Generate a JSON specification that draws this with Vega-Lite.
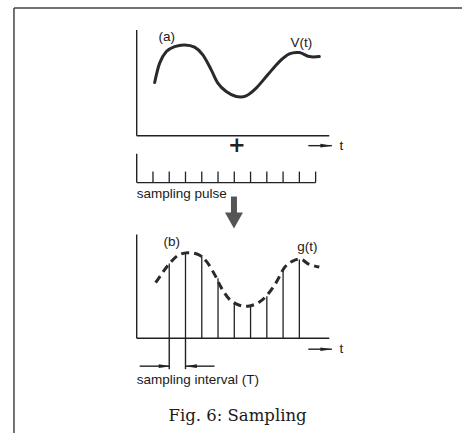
{
  "$schema": "https://vega.github.io/schema/vega-lite/v6.json",
  "width": 463,
  "height": 434,
  "padding": 0,
  "autosize": {"type": "fit", "contains": "padding"},
  "background": "white",
  "config": {"view": {"stroke": null}},
  "datasets": {
    "frame": [
      {"x": -7.546, "y": 42.6, "x2": 20.0, "y2": 42.6},
      {"x": -7.546, "y": 42.6, "x2": -7.546, "y2": 0}
    ],
    "axes": [
      {"x": 0, "y": 40.4, "x2": 0, "y2": 29.8},
      {"x": 0, "y": 29.8, "x2": 11.84, "y2": 29.8},
      {"x": 0, "y": 19.9, "x2": 0, "y2": 9.5},
      {"x": 0, "y": 9.5, "x2": 11.84, "y2": 9.5},
      {"x": 0, "y": 28.0, "x2": 0, "y2": 25.1},
      {"x": 0, "y": 25.1, "x2": 11.0, "y2": 25.1},
      {"x": 10.55, "y": 28.8, "x2": 12.0, "y2": 28.8},
      {"x": 10.55, "y": 8.4, "x2": 12.0, "y2": 8.4},
      {"x": 2.0, "y": 9.5, "x2": 2.0, "y2": 6.4},
      {"x": 3.0, "y": 9.5, "x2": 3.0, "y2": 6.4},
      {"x": 0.184, "y": 6.7, "x2": 2.0, "y2": 6.7},
      {"x": 3.0, "y": 6.7, "x2": 4.785, "y2": 6.7}
    ],
    "pulses": [
      {"k": 1, "y": 25.1, "y2": 26.2}, {"k": 2, "y": 25.1, "y2": 26.2},
      {"k": 3, "y": 25.1, "y2": 26.2}, {"k": 4, "y": 25.1, "y2": 26.2},
      {"k": 5, "y": 25.1, "y2": 26.2}, {"k": 6, "y": 25.1, "y2": 26.2},
      {"k": 7, "y": 25.1, "y2": 26.2}, {"k": 8, "y": 25.1, "y2": 26.2},
      {"k": 9, "y": 25.1, "y2": 26.2}, {"k": 10, "y": 25.1, "y2": 26.2},
      {"k": 11, "y": 25.1, "y2": 26.2}
    ],
    "stems": [
      {"k": 2, "base": 9.5, "top": 17.0},
      {"k": 3, "base": 9.5, "top": 18.13},
      {"k": 4, "base": 9.5, "top": 17.85},
      {"k": 5, "base": 9.5, "top": 15.5},
      {"k": 6, "base": 9.5, "top": 13.0},
      {"k": 7, "base": 9.5, "top": 12.75},
      {"k": 8, "base": 9.5, "top": 13.7},
      {"k": 9, "base": 9.5, "top": 16.35},
      {"k": 10, "base": 9.5, "top": 17.4}
    ],
    "vt": [
      {"i": 0, "t": 1.104, "v": 35.13}, {"i": 1, "t": 1.411, "v": 37.07},
      {"i": 2, "t": 1.822, "v": 38.23}, {"i": 3, "t": 2.331, "v": 38.73},
      {"i": 4, "t": 2.945, "v": 38.9}, {"i": 5, "t": 3.558, "v": 38.67},
      {"i": 6, "t": 4.067, "v": 37.9}, {"i": 7, "t": 4.583, "v": 36.4},
      {"i": 8, "t": 4.988, "v": 35.07}, {"i": 9, "t": 5.503, "v": 34.23},
      {"i": 10, "t": 6.117, "v": 33.73}, {"i": 11, "t": 6.73, "v": 33.8},
      {"i": 12, "t": 7.344, "v": 34.57}, {"i": 13, "t": 8.055, "v": 35.9},
      {"i": 14, "t": 8.773, "v": 37.23}, {"i": 15, "t": 9.387, "v": 38.0},
      {"i": 16, "t": 10.0, "v": 38.13}, {"i": 17, "t": 10.613, "v": 37.73},
      {"i": 18, "t": 11.227, "v": 37.73}
    ],
    "gt": [
      {"i": 0, "t": 1.166, "v": 15.07}, {"i": 1, "t": 1.613, "v": 16.13},
      {"i": 2, "t": 2.025, "v": 17.0}, {"i": 3, "t": 2.534, "v": 17.8},
      {"i": 4, "t": 3.147, "v": 18.07}, {"i": 5, "t": 3.761, "v": 17.9},
      {"i": 6, "t": 4.276, "v": 17.23}, {"i": 7, "t": 4.785, "v": 15.9},
      {"i": 8, "t": 5.196, "v": 14.57}, {"i": 9, "t": 5.706, "v": 13.4},
      {"i": 10, "t": 6.319, "v": 12.8}, {"i": 11, "t": 6.933, "v": 12.73},
      {"i": 12, "t": 7.546, "v": 13.13}, {"i": 13, "t": 8.055, "v": 13.9},
      {"i": 14, "t": 8.571, "v": 15.07}, {"i": 15, "t": 9.08, "v": 16.57},
      {"i": 16, "t": 9.589, "v": 17.23}, {"i": 17, "t": 10.104, "v": 17.4},
      {"i": 18, "t": 10.613, "v": 16.9}, {"i": 19, "t": 11.227, "v": 16.63}
    ],
    "heads_right": [
      {"x": 11.66, "y": 28.8}, {"x": 11.66, "y": 8.4}, {"x": 1.72, "y": 6.7}
    ],
    "heads_left": [
      {"x": 3.33, "y": 6.7}
    ],
    "labels": [
      {"x": 1.84, "y": 39.7, "text": "(a)"},
      {"x": 10.12, "y": 39.1, "text": "V(t)"},
      {"x": 12.58, "y": 28.8, "text": "t"},
      {"x": 12.58, "y": 8.4, "text": "t"},
      {"x": 2.15, "y": 19.1, "text": "(b)"},
      {"x": 10.49, "y": 18.6, "text": "g(t)"}
    ],
    "leftlabels": [
      {"x": 0, "y": 24.0, "text": "sampling pulse"},
      {"x": 0, "y": 5.3, "text": "sampling interval (T)"}
    ]
  },
  "layer": [
    {
      "data": {"name": "frame"},
      "mark": {"type": "rule", "color": "#444", "strokeWidth": 1.5},
      "encoding": {
        "x": {"field": "x", "type": "quantitative", "scale": {"domain": [-8.405, 20.0], "nice": false, "zero": false}, "axis": null},
        "y": {"field": "y", "type": "quantitative", "scale": {"domain": [0, 43.4], "nice": false, "zero": false}, "axis": null},
        "x2": {"field": "x2"},
        "y2": {"field": "y2"}
      }
    },
    {
      "data": {"name": "axes"},
      "mark": {"type": "rule", "color": "#222", "strokeWidth": 1.4},
      "encoding": {
        "x": {"field": "x", "type": "quantitative", "axis": null},
        "y": {"field": "y", "type": "quantitative", "axis": null},
        "x2": {"field": "x2"},
        "y2": {"field": "y2"}
      }
    },
    {
      "data": {"name": "pulses"},
      "mark": {"type": "rule", "color": "#222", "strokeWidth": 1.3},
      "encoding": {
        "x": {"field": "k", "type": "quantitative", "axis": null},
        "y": {"field": "y", "type": "quantitative", "axis": null},
        "y2": {"field": "y2"}
      }
    },
    {
      "data": {"name": "stems"},
      "mark": {"type": "rule", "color": "#222", "strokeWidth": 1.3},
      "encoding": {
        "x": {"field": "k", "type": "quantitative", "axis": null},
        "y": {"field": "base", "type": "quantitative", "axis": null},
        "y2": {"field": "top"}
      }
    },
    {
      "data": {"name": "vt"},
      "mark": {"type": "line", "color": "#2a2a2a", "strokeWidth": 3, "interpolate": "cardinal", "strokeCap": "round"},
      "encoding": {
        "x": {"field": "t", "type": "quantitative", "axis": null},
        "y": {"field": "v", "type": "quantitative", "axis": null},
        "order": {"field": "i", "type": "quantitative"}
      }
    },
    {
      "data": {"name": "gt"},
      "mark": {"type": "line", "color": "#2a2a2a", "strokeWidth": 3, "interpolate": "cardinal", "strokeDash": [8, 5]},
      "encoding": {
        "x": {"field": "t", "type": "quantitative", "axis": null},
        "y": {"field": "v", "type": "quantitative", "axis": null},
        "order": {"field": "i", "type": "quantitative"}
      }
    },
    {
      "data": {"name": "heads_right"},
      "mark": {"type": "point", "shape": "M-1,-0.3L1,0L-1,0.3Z", "filled": true, "color": "#222", "size": 144, "opacity": 1},
      "encoding": {
        "x": {"field": "x", "type": "quantitative", "axis": null},
        "y": {"field": "y", "type": "quantitative", "axis": null}
      }
    },
    {
      "data": {"name": "heads_left"},
      "mark": {"type": "point", "shape": "M1,-0.3L-1,0L1,0.3Z", "filled": true, "color": "#222", "size": 144, "opacity": 1},
      "encoding": {
        "x": {"field": "x", "type": "quantitative", "axis": null},
        "y": {"field": "y", "type": "quantitative", "axis": null}
      }
    },
    {
      "data": {"values": [{"x": 5.98, "y": 23.7, "y2": 22.0}]},
      "mark": {"type": "rule", "color": "#555", "strokeWidth": 6},
      "encoding": {
        "x": {"field": "x", "type": "quantitative", "axis": null},
        "y": {"field": "y", "type": "quantitative", "axis": null},
        "y2": {"field": "y2"}
      }
    },
    {
      "data": {"values": [{"x": 5.98, "y": 21.3}]},
      "mark": {"type": "point", "shape": "M-1,-0.9L1,-0.9L0,0.9Z", "filled": true, "color": "#555", "size": 324, "opacity": 1},
      "encoding": {
        "x": {"field": "x", "type": "quantitative", "axis": null},
        "y": {"field": "y", "type": "quantitative", "axis": null}
      }
    },
    {
      "data": {"values": [{"x": 6.15, "y": 28.75, "text": "+"}]},
      "mark": {"type": "text", "font": "DejaVu Sans", "fontSize": 21, "fontWeight": "bold", "color": "#222", "baseline": "middle", "align": "center"},
      "encoding": {
        "x": {"field": "x", "type": "quantitative", "axis": null},
        "y": {"field": "y", "type": "quantitative", "axis": null},
        "text": {"field": "text"}
      }
    },
    {
      "data": {"name": "labels"},
      "mark": {"type": "text", "font": "Liberation Sans", "fontSize": 13.5, "color": "#1a1a1a", "baseline": "middle", "align": "center"},
      "encoding": {
        "x": {"field": "x", "type": "quantitative", "axis": null},
        "y": {"field": "y", "type": "quantitative", "axis": null},
        "text": {"field": "text"}
      }
    },
    {
      "data": {"name": "leftlabels"},
      "mark": {"type": "text", "font": "Liberation Sans", "fontSize": 13.5, "color": "#1a1a1a", "baseline": "middle", "align": "left"},
      "encoding": {
        "x": {"field": "x", "type": "quantitative", "axis": null},
        "y": {"field": "y", "type": "quantitative", "axis": null},
        "text": {"field": "text"}
      }
    },
    {
      "data": {"values": [{"x": 6.2, "y": 1.7, "text": "Fig. 6: Sampling"}]},
      "mark": {"type": "text", "font": "DejaVu Serif", "fontSize": 16.5, "color": "#1a1a1a", "baseline": "middle", "align": "center"},
      "encoding": {
        "x": {"field": "x", "type": "quantitative", "axis": null},
        "y": {"field": "y", "type": "quantitative", "axis": null},
        "text": {"field": "text"}
      }
    }
  ]
}
